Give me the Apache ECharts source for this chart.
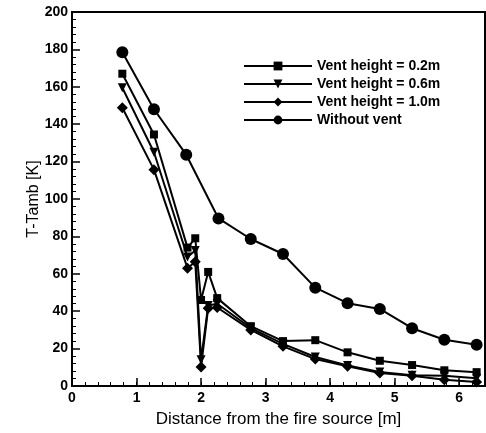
<!DOCTYPE html>
<html>
<head>
<meta charset="utf-8">
<script src="https://cdn.jsdelivr.net/npm/echarts@6/dist/echarts.min.js"></script>
<style>
  html, body { margin: 0; padding: 0; background: #fff; }
  #chart { width: 486px; height: 433px; }
</style>
</head>
<body>
<div id="chart"></div>
<script>
// distances [m]
const ventX = [0.78, 1.27, 1.79, 1.91, 2.0, 2.11, 2.25, 2.77, 3.27, 3.77, 4.27, 4.77, 5.27, 5.77, 6.27];
const noVentX = [0.78, 1.27, 1.77, 2.27, 2.77, 3.27, 3.77, 4.27, 4.77, 5.27, 5.77, 6.27];

// T - Tamb [K]
const vent02 = [167, 134.5, 74, 79, 46, 61, 47, 32, 24, 24.5, 18, 13.5, 11.2, 8.4, 7.4];
const vent06 = [159.5, 125, 69, 72.5, 14, 43, 44, 31, 22.5, 15.5, 11, 7.5, 5.8, 5.5, 4.2];
const vent10 = [148.8, 115.7, 63, 66.5, 10.2, 41.6, 42, 30, 21.2, 14.4, 10.5, 6.9, 5.5, 3.4, 2.1];
const noVent = [178.5, 148, 123.7, 89.6, 78.6, 70.6, 52.6, 44.3, 41.2, 30.9, 24.7, 22];

const seriesNames = ['Vent height = 0.2m', 'Vent height = 0.6m', 'Vent height = 1.0m', 'Without vent'];

const FONT = 'Liberation Sans, Arial, sans-serif';

function pairs(xs, ys) {
  return xs.map((x, i) => [x, ys[i]]);
}

function lineSeries(name, data, symbol, size, rotate) {
  return {
    type: 'line',
    name: name,
    data: data,
    xAxisIndex: 0,
    symbol: symbol,
    symbolSize: size,
    symbolRotate: rotate || 0,
    lineStyle: { color: '#000', width: 2 },
    itemStyle: { color: '#000' },
    z: 3
  };
}

const chart = echarts.init(document.getElementById('chart'));
chart.setOption({
  animation: false,
  backgroundColor: '#fff',
  grid: {
    left: 72, right: 1, top: 12, bottom: 45,
    show: true,
    borderColor: '#000',
    borderWidth: 2
  },
  legend: {
    orient: 'vertical',
    left: 238,
    top: 54,
    itemWidth: 68,
    itemHeight: 11,
    itemGap: 4,
    data: seriesNames,
    textStyle: { color: '#000', fontFamily: FONT, fontWeight: 'bold', fontSize: 14, lineHeight: 13 }
  },
  xAxis: [{
    type: 'value',
    min: 0,
    max: 6.4,
    interval: 1,
    name: 'Distance from the fire source [m]',
    nameLocation: 'middle',
    nameGap: 25,
    nameMoveOverlap: false,
    nameTextStyle: { color: '#000', fontFamily: FONT, fontSize: 17, verticalAlign: 'top' },
    axisLine: { lineStyle: { color: '#000', width: 2 } },
    axisTick: { inside: true, length: 8, lineStyle: { color: '#000', width: 1.5 } },
    axisLabel: { color: '#000', fontFamily: FONT, fontWeight: 'bold', fontSize: 14, margin: 5, showMaxLabel: false },
    splitLine: { show: false }
  }, {
    // minor ticks every 0.2
    type: 'value',
    position: 'bottom',
    min: 0,
    max: 6.4,
    interval: 0.2,
    axisLine: { show: false },
    axisTick: { inside: true, length: 4, lineStyle: { color: '#000', width: 1 } },
    axisLabel: { show: false },
    splitLine: { show: false }
  }],
  yAxis: {
    type: 'value',
    min: 0,
    max: 200,
    interval: 20,
    name: 'T-Tamb [K]',
    nameLocation: 'middle',
    nameGap: 30,
    nameMoveOverlap: false,
    nameTextStyle: { color: '#000', fontFamily: FONT, fontSize: 16 },
    axisLine: { lineStyle: { color: '#000', width: 2 } },
    axisTick: { inside: true, length: 8, lineStyle: { color: '#000', width: 1.5 } },
    minorTick: { show: true, splitNumber: 5, length: 4, lineStyle: { color: '#000', width: 1 } },
    axisLabel: { color: '#000', fontFamily: FONT, fontWeight: 'bold', fontSize: 14, margin: 4 },
    splitLine: { show: false }
  },
  series: [
    lineSeries(seriesNames[0], pairs(ventX, vent02), 'rect', 8),
    lineSeries(seriesNames[1], pairs(ventX, vent06), 'triangle', 9, 180),
    lineSeries(seriesNames[2], pairs(ventX, vent10), 'diamond', 11),
    lineSeries(seriesNames[3], pairs(noVentX, noVent), 'circle', 12)
  ]
});
</script>
</body>
</html>
